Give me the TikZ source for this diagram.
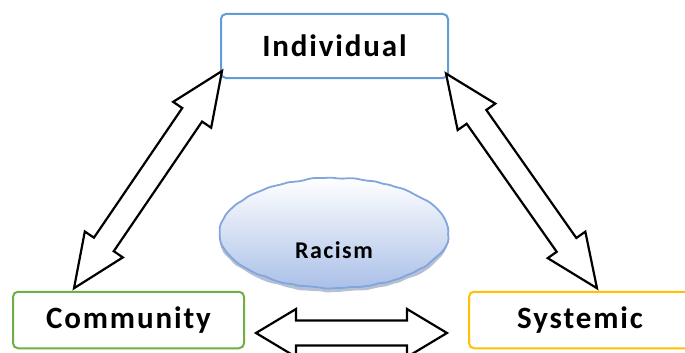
\documentclass[tikz,border=0pt]{standalone}
\usepackage{fontspec}
\setmainfont{Carlito}
\usetikzlibrary{calc,decorations.pathmorphing,shadings,shapes.geometric}
\definecolor{indblue}{RGB}{100,155,215}
\definecolor{comgreen}{RGB}{112,173,71}
\definecolor{sysgold}{RGB}{255,192,0}
\definecolor{cloudedge}{RGB}{130,165,220}
\definecolor{cloudfill}{RGB}{170,192,232}
\definecolor{cloudshadow}{RGB}{150,165,195}
\tikzset{
  boxnode/.style={draw=#1, line width=2pt, rounded corners=5pt, fill=white, inner sep=0pt,
    font=\fontsize{31}{36}\selectfont\bfseries\addfontfeature{LetterSpace=6}},
  wavy/.style={decorate, decoration={random steps, segment length=7pt, amplitude=0.8pt}, rounded corners=2pt},
  fat/.style n args={3}{to path={
    (\tikztostart)
    -- ($(\tikztostart)!#1!(\tikztotarget)!#2!90:(\tikztotarget)$)
    -- ($(\tikztostart)!#1!(\tikztotarget)!#3!90:(\tikztotarget)$)
    -- ($(\tikztotarget)!#1!(\tikztostart)!#3!-90:(\tikztostart)$)
    -- ($(\tikztotarget)!#1!(\tikztostart)!#2!-90:(\tikztostart)$)
    -- (\tikztotarget)
    -- ($(\tikztotarget)!#1!(\tikztostart)!#2!90:(\tikztostart)$)
    -- ($(\tikztotarget)!#1!(\tikztostart)!#3!90:(\tikztostart)$)
    -- ($(\tikztostart)!#1!(\tikztotarget)!#3!-90:(\tikztotarget)$)
    -- ($(\tikztostart)!#1!(\tikztotarget)!#2!-90:(\tikztotarget)$)
    -- cycle}},
  fatline/.style={draw=black, line width=2.2pt, fill=white, line join=miter, miter limit=10}
}
\begin{document}
\begin{tikzpicture}[x=1pt,y=-1pt]
\useasboundingbox (0,0) rectangle (685,353);
% cloud shadow
\fill[cloudshadow, opacity=0.7, wavy] (334,237) ellipse [x radius=114, y radius=55];
% cloud
\shade[top color=white, bottom color=cloudfill, draw=cloudedge, line width=1.8pt, wavy]
  (334,233) ellipse [x radius=114, y radius=55];
\node[font=\fontsize{24}{28}\selectfont\bfseries\addfontfeature{LetterSpace=6}] (rac) at (334,250) {Racism};
% boxes
\node[boxnode=indblue, minimum width=227pt, minimum height=64pt] (ind) at (334.5,46) {Individual};
\node[boxnode=comgreen, minimum width=231pt, minimum height=56.5pt] (com) at (128.5,320) {Community};
\node[boxnode=sysgold, minimum width=222pt, minimum height=56.5pt] (sys) at (580,320) {Systemic};
% arrow end points
\coordinate (a1) at ($(ind.south west)+(2,-8)$);
\coordinate (a2) at ($(com.north west)+(62,-2.5)$);
\coordinate (b1) at ($(ind.south east)+(-3,-5.5)$);
\coordinate (b2) at ($(sys.north west)+(129,-2.5)$);
\coordinate (c1) at ($(com.east)+(11,13)$);
\coordinate (c2) at ($(sys.west)+(-21,13)$);
% double arrows
\draw[fatline] (a1) to[fat={53pt}{23pt}{12pt}] (a2);
\draw[fatline] (b1) to[fat={53pt}{23pt}{12pt}] (b2);
\draw[fatline] (c1) to[fat={40pt}{24pt}{12.5pt}] (c2);
\end{tikzpicture}
\end{document}
